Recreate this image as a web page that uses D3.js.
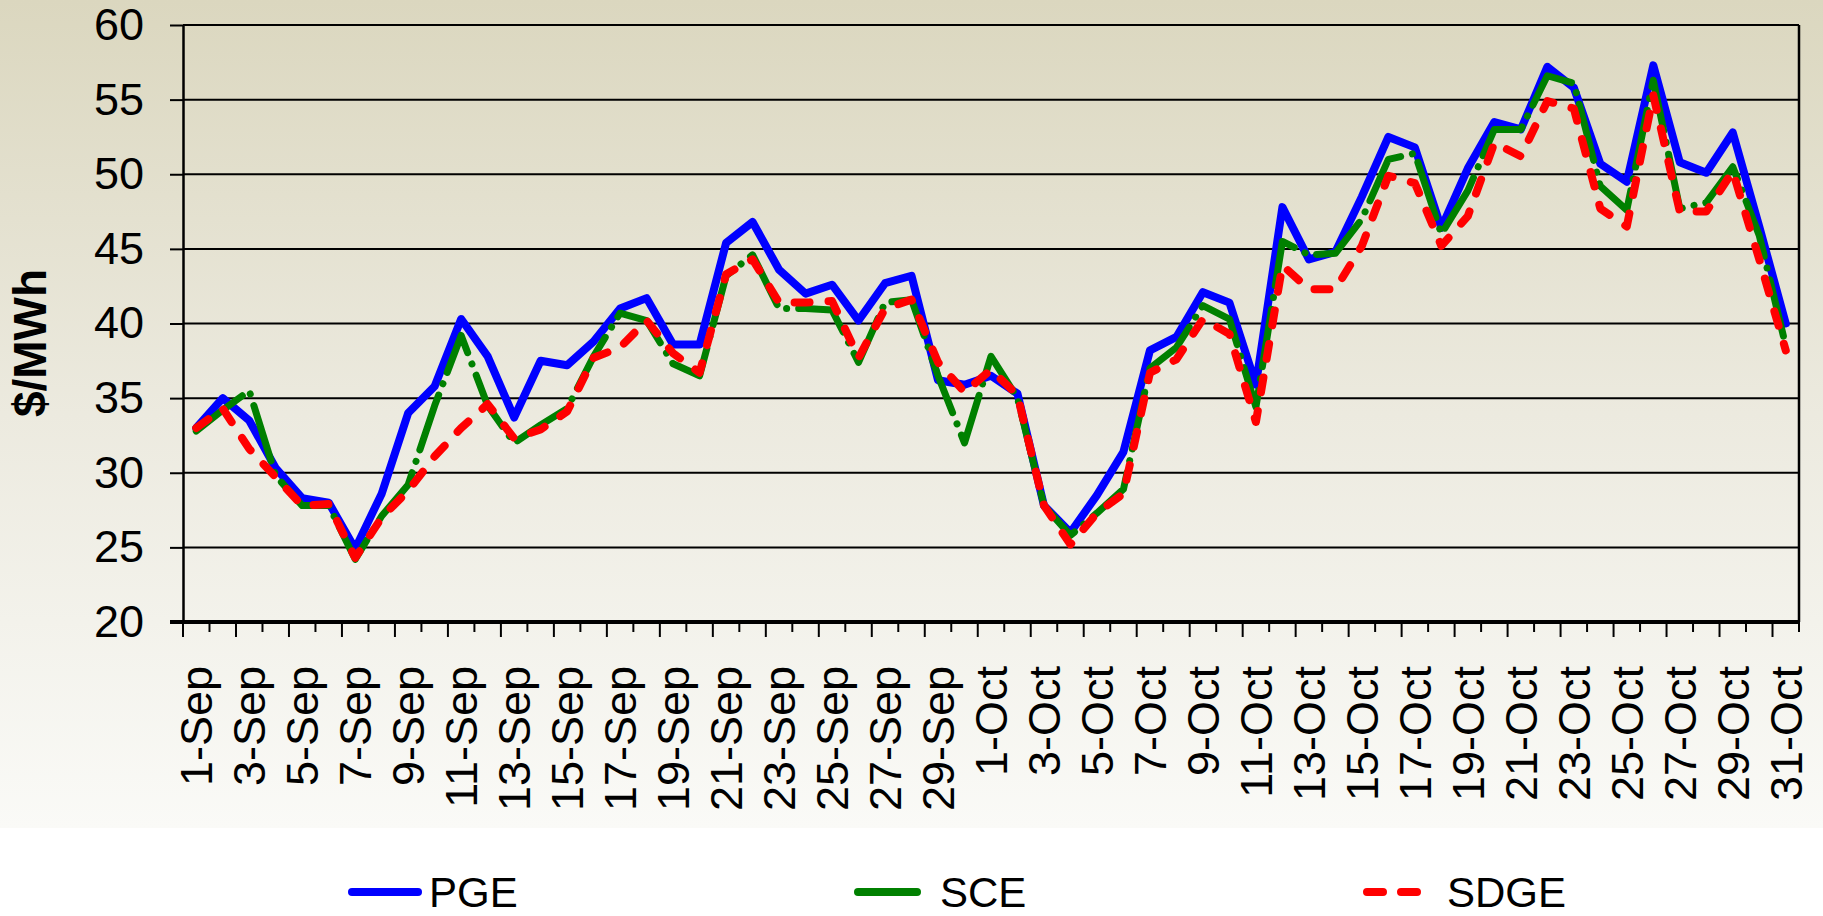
<!DOCTYPE html>
<html><head><meta charset="utf-8">
<script src="https://cdn.jsdelivr.net/npm/d3@7"></script>
<style>
html,body{margin:0;padding:0;background:#fff;}
svg{display:block;}
</style></head><body>
<svg id="chart" width="1823" height="916"></svg>
<script>
const categories = [
 "1-Sep","2-Sep","3-Sep","4-Sep","5-Sep","6-Sep","7-Sep","8-Sep","9-Sep","10-Sep",
 "11-Sep","12-Sep","13-Sep","14-Sep","15-Sep","16-Sep","17-Sep","18-Sep","19-Sep","20-Sep",
 "21-Sep","22-Sep","23-Sep","24-Sep","25-Sep","26-Sep","27-Sep","28-Sep","29-Sep","30-Sep",
 "1-Oct","2-Oct","3-Oct","4-Oct","5-Oct","6-Oct","7-Oct","8-Oct","9-Oct","10-Oct",
 "11-Oct","12-Oct","13-Oct","14-Oct","15-Oct","16-Oct","17-Oct","18-Oct","19-Oct","20-Oct",
 "21-Oct","22-Oct","23-Oct","24-Oct","25-Oct","26-Oct","27-Oct","28-Oct","29-Oct","30-Oct","31-Oct"
];
const yTicks = [20,25,30,35,40,45,50,55,60];
const seriesNames = ["PGE","SCE","SDGE"];
const pge = [
 33.0,35.0,33.5,30.3,28.3,28.0,24.9,28.6,34.0,35.8,
 40.3,37.8,33.7,37.5,37.2,38.8,41.0,41.7,38.6,38.6,
 45.4,46.8,43.6,42.0,42.6,40.2,42.7,43.2,36.2,35.9,
 36.5,35.3,27.8,26.0,28.5,31.4,38.2,39.1,42.1,41.4,
 35.9,47.8,44.3,44.8,48.5,52.5,51.8,46.4,50.4,53.5,
 53.0,57.2,55.8,50.7,49.5,57.3,50.8,50.1,52.8,46.5,40.0
];
const sce = [
 32.8,34.2,35.5,29.8,27.8,27.8,24.2,27.1,29.2,34.5,
 39.2,34.5,32.0,33.2,34.3,37.8,40.7,40.2,37.3,36.5,
 43.2,44.6,41.0,41.0,40.9,37.4,41.4,41.6,36.5,32.0,
 37.8,35.0,27.8,25.8,27.3,28.9,37.0,38.4,41.2,40.3,
 34.4,45.5,44.6,44.7,47.0,51.0,51.4,46.0,48.9,53.0,
 53.0,56.6,56.1,49.2,47.6,56.3,47.7,48.1,50.5,45.9,38.5
];
const sdge = [
 33.0,34.3,31.6,29.7,27.8,27.9,24.3,27.0,28.8,31.1,
 33.0,34.6,32.3,32.9,34.1,37.7,38.4,40.2,38.0,36.7,
 43.3,44.3,41.4,41.4,41.5,37.7,41.0,41.6,37.4,35.4,
 36.9,35.2,27.8,25.2,27.3,28.6,36.7,37.6,40.3,39.3,
 33.4,43.9,42.3,42.3,45.2,49.9,49.4,45.2,47.2,52.1,
 51.2,54.9,54.4,47.7,46.5,55.3,47.5,47.5,50.2,44.3,38.2
];
const yTitle = "$/MWh";

const W = 1823, H = 916;
const FONT = "'Liberation Sans', Arial, sans-serif";
const svg = d3.select("#chart");
const defs = svg.append("defs");
const grad = defs.append("linearGradient").attr("id","bg")
  .attr("x1",0).attr("y1",0).attr("x2",0).attr("y2",1);
grad.append("stop").attr("offset","0").attr("stop-color","#DBD7BF");
grad.append("stop").attr("offset","0.5").attr("stop-color","#ECEADF");
grad.append("stop").attr("offset","1").attr("stop-color","#FAFAF7");
svg.append("rect").attr("width",W).attr("height",H).attr("fill","#fff");
svg.append("rect").attr("width",W).attr("height",828).attr("fill","url(#bg)");

const x = d3.scaleBand().domain(categories).range([183,1799]).padding(0);
const y = d3.scaleLinear().domain([20,60]).range([622,25]);
const cx = c => x(c) + x.bandwidth()/2;

// horizontal gridlines
svg.append("g").selectAll("line").data(yTicks.filter(v => v > 20)).join("line")
  .attr("x1",x.range()[0]).attr("x2",x.range()[1])
  .attr("y1",d => y(d)).attr("y2",d => y(d))
  .attr("stroke","#000").attr("stroke-width",2);
// right border
svg.append("line").attr("x1",x.range()[1]).attr("x2",x.range()[1])
  .attr("y1",y(60)).attr("y2",y(20)).attr("stroke","#000").attr("stroke-width",2.5);

// y axis
const yAxis = d3.axisLeft(y).tickValues(yTicks).tickSize(13).tickPadding(26).tickSizeOuter(0);
const gy = svg.append("g").attr("transform",`translate(${x.range()[0]},0)`).call(yAxis)
  .attr("font-size",45).attr("font-family",FONT);
gy.select(".domain").attr("stroke","#000").attr("stroke-width",2.5);
gy.selectAll(".tick line").attr("stroke","#000").attr("stroke-width",2);
gy.selectAll(".tick text").attr("fill","#000");

// x axis line
svg.append("line").attr("x1",x.range()[0]-13).attr("x2",x.range()[1])
  .attr("y1",y(20)).attr("y2",y(20)).attr("stroke","#000").attr("stroke-width",4);
// x ticks at category boundaries (major every 2)
const bounds = categories.map((c,k) => ({pos:x(c), major:k%2===0}));
bounds.push({pos:x.range()[1], major:categories.length%2===0});
svg.append("g").selectAll("line").data(bounds).join("line")
  .attr("x1",d => d.pos).attr("x2",d => d.pos)
  .attr("y1",y(20)).attr("y2",d => y(20) + (d.major ? 15 : 10))
  .attr("stroke","#000").attr("stroke-width",2);
// x labels
svg.append("g").selectAll("text").data(categories.filter((c,k) => k%2===0)).join("text")
  .attr("transform",d => `translate(${cx(d)+16},666) rotate(-90)`)
  .attr("text-anchor","end").attr("font-size",45).attr("font-family",FONT).attr("fill","#000")
  .text(d => d);

// y title
svg.append("text").attr("transform","translate(46,343) rotate(-90)")
  .attr("text-anchor","middle").attr("font-size",46).attr("font-weight","bold")
  .attr("font-family",FONT).attr("fill","#000").text(yTitle);

// series
const styles = {
  PGE:  {color:"#0000FF", width:8,   dash:null,            cap:"round"},
  SCE:  {color:"#008000", width:7,   dash:"58 12 0.1 12", cap:"round"},
  SDGE: {color:"#FF0000", width:8,   dash:"15 19",         cap:"round"}
};
const seriesData = {PGE:pge, SCE:sce, SDGE:sdge};
const line = d3.line().x((d,i) => cx(categories[i])).y(d => y(d));
seriesNames.forEach(name => {
  const s = styles[name];
  svg.append("path").datum(seriesData[name]).attr("d",line)
    .attr("fill","none").attr("stroke",s.color).attr("stroke-width",s.width)
    .attr("stroke-linejoin","round").attr("stroke-linecap",s.cap)
    .attr("stroke-dasharray",s.dash);
});

// legend
const legendPos = {PGE:[352,418,429], SCE:[858,917,940], SDGE:[1367,1435,1447]};
seriesNames.forEach(name => {
  const s = styles[name], p = legendPos[name];
  svg.append("line").attr("x1",p[0]).attr("x2",p[1]).attr("y1",892).attr("y2",892)
    .attr("stroke",s.color).attr("stroke-width",8)
    .attr("stroke-linecap","round")
    .attr("stroke-dasharray",name==="SDGE"?"16 18":null);
  svg.append("text").attr("x",p[2]).attr("y",907).attr("font-size",42)
    .attr("font-family",FONT).attr("fill","#000").text(name);
});
</script>
</body></html>
